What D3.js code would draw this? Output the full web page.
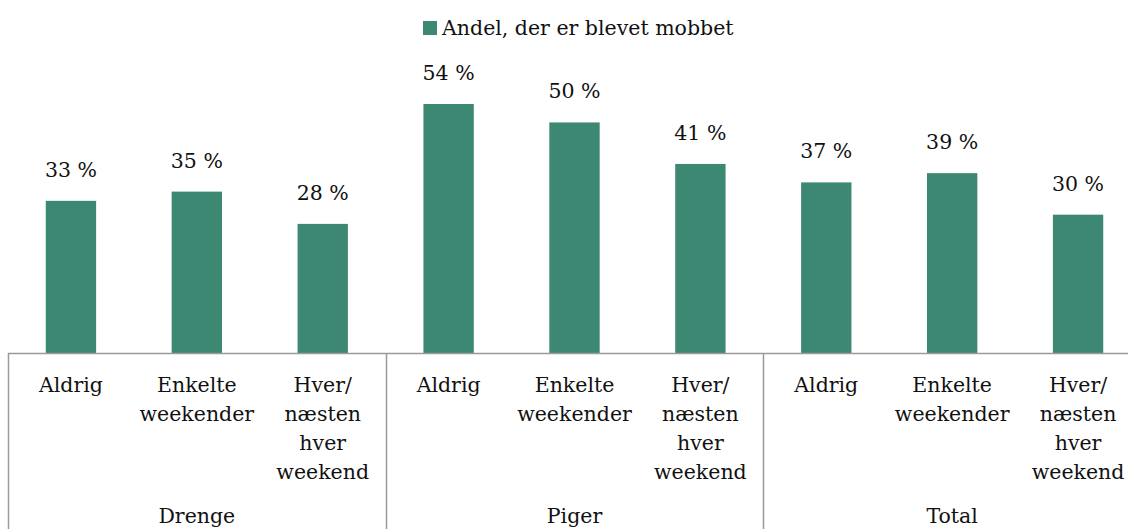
<!DOCTYPE html>
<html>
<head>
<meta charset="utf-8">
<script src="https://cdn.jsdelivr.net/npm/d3@7"></script>
<style>
  body { margin: 0; background: #fff; }
  text { font-family: "DejaVu Serif", serif; fill: #111; }
</style>
</head>
<body>
<script>
var groups = ["Drenge", "Piger", "Total"];
var subCategories = [["Aldrig"], ["Enkelte", "weekender"], ["Hver/", "næsten", "hver", "weekend"]];
var seriesName = "Andel, der er blevet mobbet";
var values = [33, 35, 28, 54, 50, 41, 37, 39, 30];

var width = 1128, height = 529;
var margin = {left: 8, right: -13, base: 353};
var barColor = "#3d8873";
var fontSize = 20.5;

var svg = d3.select("body").append("svg")
  .attr("width", width)
  .attr("height", height);

var keys = d3.range(values.length);

var x = d3.scaleBand()
  .domain(keys)
  .range([margin.left, width - margin.right])
  .paddingInner(0.6)
  .paddingOuter(0.3);

var step = x.step();

var y = d3.scaleLinear()
  .domain([0, 54])
  .range([margin.base, 104]);

// bars
svg.selectAll("rect.bar")
  .data(values)
  .enter().append("rect")
  .attr("class", "bar")
  .attr("x", (d, i) => x(i))
  .attr("width", x.bandwidth())
  .attr("y", d => y(d))
  .attr("height", d => y(0) - y(d))
  .attr("fill", barColor);

// value labels
svg.selectAll("text.val")
  .data(values)
  .enter().append("text")
  .attr("class", "val")
  .attr("x", (d, i) => x(i) + x.bandwidth() / 2)
  .attr("y", d => y(d) - 24)
  .attr("text-anchor", "middle")
  .style("font-size", fontSize + "px")
  .text(d => d + " %");

// axis line
var plotLeft = x.range()[0], plotRight = x.range()[1];
svg.append("line")
  .attr("x1", plotLeft).attr("x2", plotRight)
  .attr("y1", margin.base + 0.5).attr("y2", margin.base + 0.5)
  .attr("stroke", "#9a9a9a").attr("stroke-width", 1.5);

// group separators
var groupEdges = d3.range(groups.length + 1).map(g => plotLeft + g * 3 * step);
svg.selectAll("line.sep")
  .data(groupEdges)
  .enter().append("line")
  .attr("class", "sep")
  .attr("x1", d => Math.round(d) + 0.5).attr("x2", d => Math.round(d) + 0.5)
  .attr("y1", margin.base).attr("y2", height)
  .attr("stroke", "#9a9a9a").attr("stroke-width", 1.5);

// category labels
keys.forEach(function(i) {
  var lines = subCategories[i % 3];
  var t = svg.append("text")
    .attr("text-anchor", "middle")
    .attr("x", x(i) + x.bandwidth() / 2)
    .attr("y", 392)
    .style("font-size", fontSize + "px");
  lines.forEach(function(l, j) {
    t.append("tspan")
      .attr("x", x(i) + x.bandwidth() / 2)
      .attr("y", 392 + j * 29)
      .text(l);
  });
});

// group labels
svg.selectAll("text.grp")
  .data(groups)
  .enter().append("text")
  .attr("class", "grp")
  .attr("x", (d, g) => (groupEdges[g] + groupEdges[g + 1]) / 2)
  .attr("y", 523)
  .attr("text-anchor", "middle")
  .style("font-size", fontSize + "px")
  .text(d => d);

// legend
var legend = svg.append("g").attr("transform", "translate(423,21)");
legend.append("rect")
  .attr("width", 14).attr("height", 14)
  .attr("fill", barColor);
legend.append("text")
  .attr("x", 19).attr("y", 14)
  .style("font-size", fontSize + "px")
  .text(seriesName);
</script>
</body>
</html>
